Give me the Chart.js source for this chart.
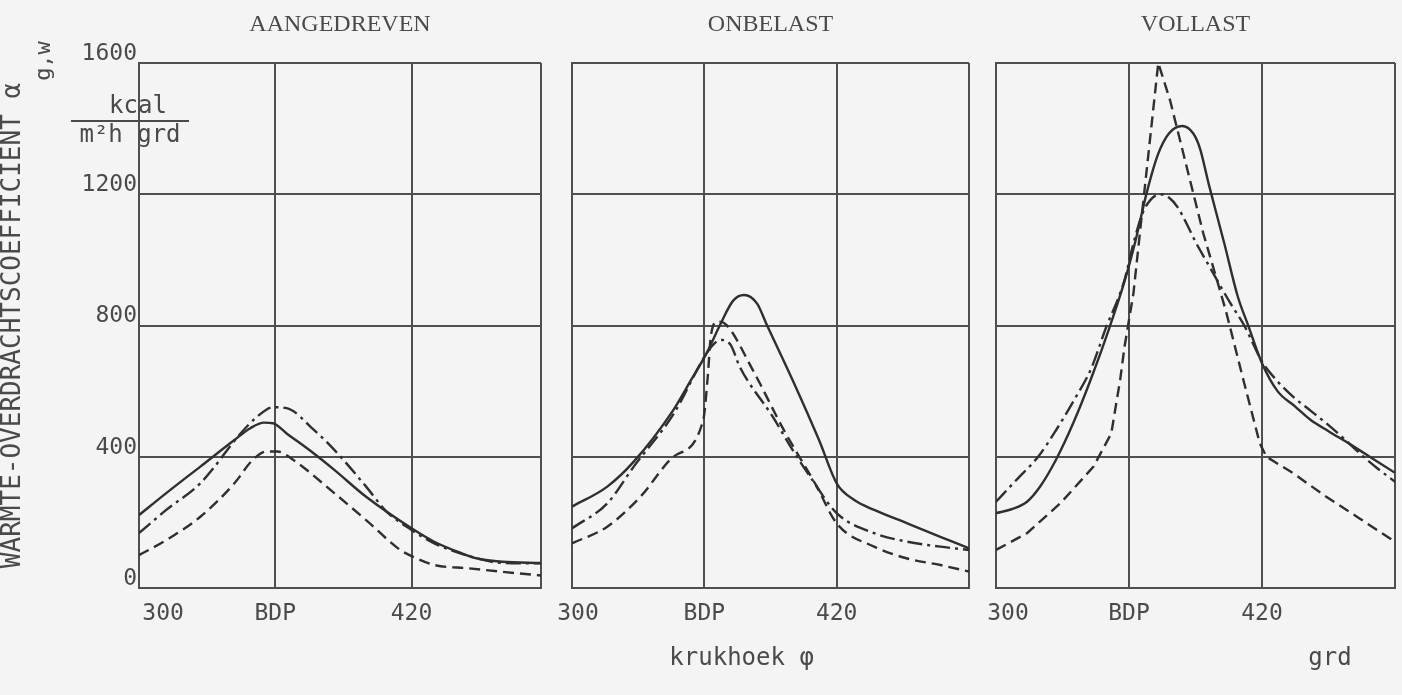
<!DOCTYPE html>
<html>
<head>
<meta charset="utf-8">
<script src="https://cdn.jsdelivr.net/npm/chart.js@4.4.1/dist/chart.umd.min.js"></script>
<style>
  html, body { margin: 0; padding: 0; background: #f4f4f4; }
  #wrap { position: relative; width: 1402px; height: 695px; overflow: hidden; }
  canvas { position: absolute; top: 0; }
</style>
</head>
<body>
<div id="wrap">
  <canvas id="c1" width="550" height="695" style="left:0px"></canvas>
  <canvas id="c2" width="433" height="695" style="left:550px"></canvas>
  <canvas id="c3" width="419" height="695" style="left:983px"></canvas>
</div>
<script>
// ---------- texts / ticks ----------
const panelTitles = ['AANGEDREVEN', 'ONBELAST', 'VOLLAST'];
const yTickValues = [0, 400, 800, 1200, 1600];
const xTickValues = [300, 360, 420, 480];
const xTickLabels = ['300', 'BDP', '420', ''];
const yTitleText = 'WARMTE-OVERDRACHTSCOEFFICIENT α';
const ySubscript = 'g,w';
const unitNumerator = 'kcal';
const unitDenominator = 'm²h grd';
const xTitleText = 'krukhoek φ';
const xUnitText = 'grd';

// ---------- data: AANGEDREVEN ----------
const aSolidX   = [300, 312, 327, 342, 349, 355, 359, 365, 377, 386, 400, 420, 430, 442, 449, 460, 477];
const aSolidY   = [222, 289, 370, 451, 487, 504, 502, 471, 410, 360, 278, 182, 141, 106, 90, 80, 76];
const aDashDotX = [300, 312, 327, 345, 352, 359, 365, 377, 386, 400, 409, 420, 430, 449, 459, 477];
const aDashDotY = [167, 238, 319, 473, 522, 551, 548, 482, 421, 309, 233, 177, 136, 90, 77, 75];
const aDashedX  = [300, 312, 327, 342, 350, 356, 361, 368, 386, 400, 415, 421, 430, 445, 459, 477];
const aDashedY  = [100, 146, 217, 319, 390, 416, 416, 390, 289, 207, 116, 94, 70, 60, 50, 38];

// ---------- data: ONBELAST ----------
const oSolidX   = [300, 316, 328, 346, 354, 361, 367, 373, 378, 384, 388, 400, 412, 420, 428, 437, 452, 467, 480];
const oSolidY   = [248, 309, 385, 543, 634, 715, 800, 875, 893, 866, 807, 634, 451, 319, 268, 238, 197, 156, 121];
const oDashDotX = [300, 316, 328, 346, 361, 365, 368, 372, 376, 391, 400, 409, 420, 437, 452, 467, 480];
const oDashDotY = [182, 258, 370, 530, 715, 748, 756, 740, 675, 522, 421, 329, 228, 167, 141, 126, 116];
const oDashedX  = [300, 316, 331, 346, 359.5, 361.5, 363, 366, 370, 382, 396, 411, 420, 437, 452, 467, 480];
const oDashedY  = [136, 187, 278, 400, 512, 640, 770, 812, 802, 664, 482, 309, 197, 126, 90, 70, 50];

// ---------- data: VOLLAST ----------
const vSolidX   = [300, 307, 314, 320, 327, 335, 343, 351, 358, 363, 368, 373, 378, 384, 389, 392, 396, 403, 409, 414, 420, 427, 435, 442, 450, 460, 470, 480];
const vSolidY   = [228, 240, 263, 310, 390, 505, 640, 790, 935, 1060, 1205, 1320, 1385, 1408, 1385, 1340, 1230, 1050, 890, 796, 685, 600, 553, 512, 478, 437, 394, 351];
const vDashDotX = [300, 310, 319, 327, 335, 343, 350, 355, 358, 362, 366, 370, 374, 378, 382, 386, 390, 395, 400, 406, 412, 420, 427, 434, 442, 449, 457, 464, 472, 480];
const vDashDotY = [263, 335, 400, 480, 570, 670, 800, 880, 939, 1050, 1140, 1185, 1200, 1190, 1160, 1110, 1055, 995, 935, 865, 800, 690, 630, 583, 540, 502, 455, 411, 365, 324];
const vDashedX  = [300, 314, 329, 344, 352, 356, 358, 362, 366, 370, 373.2, 378.5, 386, 393.5, 401, 404, 411.6, 419, 422, 434, 449, 464, 480];
const vDashedY  = [116, 167, 258, 370, 471, 634, 736, 898, 1150, 1400, 1600, 1487, 1284, 1081, 908, 837, 634, 441, 400, 350, 278, 212, 141];

// ---------- styling ----------
const gridColor = '#4f4f4f';
const lineColor = '#2f2f2f';
const textColor = '#4a4a4a';
const monoFamily = '"DejaVu Sans Mono", monospace';
const serifFamily = '"Liberation Serif", serif';
const dashedPattern = [11, 6];
const dashDotPattern = [15, 5, 3, 5];

function pts(xs, ys) { return xs.map((x, i) => ({ x: x, y: ys[i] })); }

function lineSet(label, xs, ys, dash, tension) {
  return {
    label: label,
    data: pts(xs, ys),
    borderColor: lineColor,
    borderWidth: 2.4,
    borderDash: dash,
    pointRadius: 0,
    fill: false,
    cubicInterpolationMode: tension === 0 ? 'default' : 'monotone',
    tension: tension === 0 ? 0 : 0.4
  };
}

const unitPlugin = {
  id: 'unitAndSubscript',
  afterDraw(chart) {
    const { ctx, chartArea: a, scales } = chart;
    const y = scales.y;
    ctx.save();
    ctx.fillStyle = textColor;
    ctx.strokeStyle = textColor;
    ctx.font = '24px ' + monoFamily;
    ctx.textAlign = 'center';
    ctx.textBaseline = 'alphabetic';
    ctx.fillText(unitNumerator, a.left - 1, a.top + 50);
    ctx.fillText(unitDenominator, a.left - 9, a.top + 79);
    ctx.lineWidth = 1.8;
    ctx.beginPath();
    ctx.moveTo(a.left - 68, a.top + 58);
    ctx.lineTo(a.left + 50, a.top + 58);
    ctx.stroke();
    ctx.font = '26px ' + monoFamily;
    const w = ctx.measureText(yTitleText).width;
    const endY = (y.top + y.bottom) / 2 - w / 2;
    ctx.font = '22px ' + monoFamily;
    ctx.translate(y.left + 44, endY - 2);
    ctx.rotate(-Math.PI / 2);
    ctx.textAlign = 'left';
    ctx.textBaseline = 'middle';
    ctx.fillText(ySubscript, 0, 0);
    ctx.restore();
  }
};

const panels = [
  { id: 'c1', title: panelTitles[0], xMax: 477, firstShift: 10.6, showY: true, yWidth: 139,
    pad: { left: 0, right: 9 }, xTitle: '', xTitleAlign: 'center',
    sets: [lineSet('solid', aSolidX, aSolidY, [], 1),
           lineSet('dash-dot', aDashDotX, aDashDotY, dashDotPattern, 1),
           lineSet('dashed', aDashedX, aDashedY, dashedPattern, 1)] },
  { id: 'c2', title: panelTitles[1], xMax: 480, firstShift: 2.7, showY: false, yWidth: 0,
    pad: { left: 22, right: 14 }, xTitle: xTitleText + '    ', xTitleAlign: 'center',
    sets: [lineSet('solid', oSolidX, oSolidY, [], 1),
           lineSet('dash-dot', oDashDotX, oDashDotY, dashDotPattern, 1),
           lineSet('dashed', oDashedX, oDashedY, dashedPattern, 1)] },
  { id: 'c3', title: panelTitles[2], xMax: 480, firstShift: 5.4, showY: false, yWidth: 0,
    pad: { left: 13, right: 7 }, xTitle: xUnitText + '   ', xTitleAlign: 'end',
    sets: [lineSet('solid', vSolidX, vSolidY, [], 1),
           lineSet('dash-dot', vDashDotX, vDashDotY, dashDotPattern, 1),
           lineSet('dashed', vDashedX, vDashedY, dashedPattern, 0)] }
];

panels.forEach(p => {
  new Chart(document.getElementById(p.id), {
    type: 'line',
    data: { datasets: p.sets },
    options: {
      responsive: false,
      animation: false,
      events: [],
      layout: { padding: { top: 10, bottom: 12, left: p.pad.left, right: p.pad.right } },
      plugins: {
        legend: { display: false },
        tooltip: { enabled: false },
        title: {
          display: true, text: p.title, fullSize: false, color: textColor,
          font: { family: serifFamily, size: 24, weight: 'normal', lineHeight: 1.2 },
          padding: { top: 0, bottom: 24.2 }
        }
      },
      scales: {
        x: {
          type: 'linear', min: 300, max: p.xMax,
          afterBuildTicks: s => {
            s.ticks = xTickValues.map((v, i) => ({ value: i === 0 ? v + p.firstShift : Math.min(v, p.xMax) }));
          },
          afterFit: s => { s.height = 95; s.paddingLeft = 0; s.paddingRight = 0; },
          grid: { color: c => (c.index === 0 ? 'rgba(0,0,0,0)' : gridColor), lineWidth: 2, drawTicks: false },
          border: { display: true, color: gridColor, width: 2 },
          ticks: {
            autoSkip: false, maxRotation: 0, minRotation: 0, padding: 12, color: textColor,
            font: { family: monoFamily, size: 23 },
            callback: (v, i) => xTickLabels[i]
          },
          title: {
            display: p.xTitle !== '', text: p.xTitle, align: p.xTitleAlign, color: textColor,
            font: { family: monoFamily, size: 24, lineHeight: 1.2 },
            padding: { top: 0, bottom: 10 }
          }
        },
        y: {
          type: 'linear', min: 0, max: 1600,
          afterBuildTicks: s => { s.ticks = yTickValues.map(v => ({ value: v })); },
          afterFit: s => { s.width = p.yWidth; s.paddingTop = 0; s.paddingBottom = 0; },
          grid: { color: gridColor, lineWidth: 2, drawTicks: false },
          border: { display: true, color: gridColor, width: 2 },
          ticks: {
            display: p.showY, padding: 2, labelOffset: -9, color: textColor,
            font: { family: monoFamily, size: 23 },
            callback: v => String(v)
          },
          title: {
            display: p.showY, text: yTitleText, color: textColor,
            font: { family: monoFamily, size: 26, lineHeight: 1 },
            padding: { top: 0, bottom: 0 }
          }
        }
      }
    },
    plugins: p.showY ? [unitPlugin] : []
  });
});
</script>
</body>
</html>
